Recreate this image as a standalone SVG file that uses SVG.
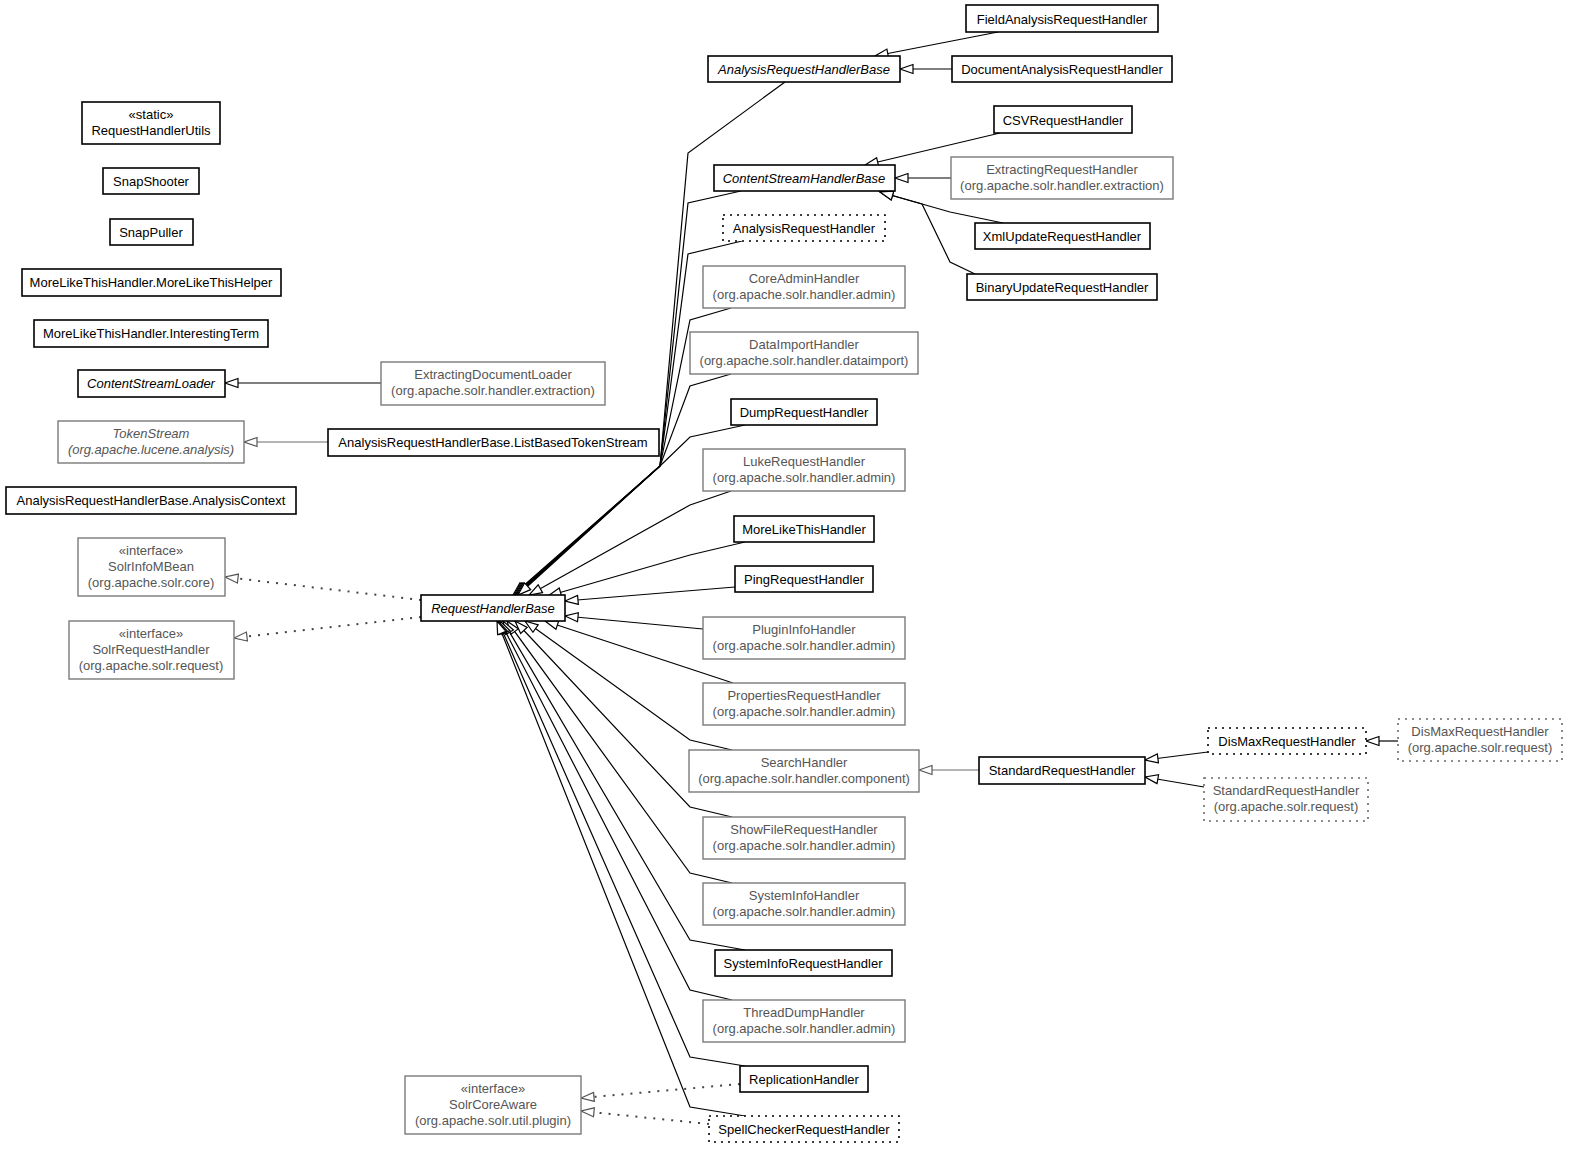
<svg xmlns="http://www.w3.org/2000/svg" width="1573" height="1152" viewBox="0 0 1573 1152">
<defs>
<style>
rect{fill:#fff}
.b{stroke:#000;stroke-width:1.6}
.g{stroke:#7a7a7a;stroke-width:1.4}
.d{stroke:#000;stroke-width:1.6;stroke-dasharray:2 5}
.gd{stroke:#6a6a6a;stroke-width:1.6;stroke-dasharray:2 5}
text{font-family:"Liberation Sans",Arial,sans-serif;font-size:13px;text-anchor:middle;fill:#000}
.gt{fill:#555}
.it{font-style:italic}
.e{fill:none;stroke:#000;stroke-width:1.2;marker-end:url(#tri)}
.eg{fill:none;stroke:#6a6a6a;stroke-width:1.2;marker-end:url(#trig)}
.r{fill:none;stroke:#444;stroke-width:2;stroke-dasharray:2 7;marker-end:url(#trig)}
</style>
<marker id="tri" markerWidth="16" markerHeight="12" refX="14" refY="5.5" orient="auto" markerUnits="userSpaceOnUse"><path d="M1,1 L14,5.5 L1,10 Z" fill="#fff" stroke="#000" stroke-width="1.2" stroke-dasharray="none"/></marker>
<marker id="trig" markerWidth="16" markerHeight="12" refX="14" refY="5.5" orient="auto" markerUnits="userSpaceOnUse"><path d="M1,1 L14,5.5 L1,10 Z" fill="#fff" stroke="#555" stroke-width="1.2" stroke-dasharray="none"/></marker>
</defs>
<rect x="0" y="0" width="1573" height="1152" fill="#fff"/>
<g id="connectors">
<polyline class="e" points="785,82 688,153 660,466 513,595"/>
<polyline class="e" points="741,191 688,203 660,466 514,595"/>
<polyline class="e" points="742,241 688,254 660,466 515,595"/>
<polyline class="e" points="731,308 690,320 660,466 516,595"/>
<polyline class="e" points="731,374 690,386 660,466 517,595"/>
<polyline class="e" points="745,425 690,437 660,466 518,595"/>
<polyline class="e" points="731,491 690,505 529,595"/>
<polyline class="e" points="745,542 690,555 548,596"/>
<polyline class="e" points="735,587 565,601"/>
<polyline class="e" points="703,629 565,616"/>
<polyline class="e" points="733,683 545,621"/>
<polyline class="e" points="732,750 690,740 525,621"/>
<polyline class="e" points="732,817 690,807 515,621"/>
<polyline class="e" points="732,883 690,873 507,621"/>
<polyline class="e" points="745,950 690,940 503,621"/>
<polyline class="e" points="732,1000 690,990 500,621"/>
<polyline class="e" points="745,1066 690,1057 498,621"/>
<polyline class="e" points="745,1116 690,1107 497,621"/>
<polyline class="e" points="998,32 875,56"/>
<polyline class="e" points="952,69 900,69"/>
<polyline class="e" points="1000,133 865,165"/>
<polyline class="e" points="951,178 895,178"/>
<polyline class="e" points="1003,223 950,212 880,192"/>
<polyline class="e" points="975,274 950,262 922,204 880,192"/>
<polyline class="e" points="381,383 225,383"/>
<polyline class="eg" points="328,442 244,442"/>
<polyline class="eg" points="979,770 919,770"/>
<polyline class="e" points="1208,752 1145,760"/>
<polyline class="e" points="1204,787 1145,777"/>
<polyline class="e" points="1398,741 1366,741"/>
<polyline class="r" points="421,600 225,577"/>
<polyline class="r" points="421,617 234,638"/>
<polyline class="r" points="740,1084 581,1098"/>
<polyline class="r" points="709,1124 581,1111"/>
</g>
<g id="FieldAnalysisRequestHandler"><rect class="b" x="966" y="5" width="192" height="27"/><text x="1062" y="23.5">FieldAnalysisRequestHandler</text></g>
<g id="AnalysisRequestHandlerBase"><rect class="b" x="708" y="56" width="192" height="26"/><text class="it" x="804" y="73.5">AnalysisRequestHandlerBase</text></g>
<g id="DocumentAnalysisRequestHandler"><rect class="b" x="952" y="56" width="220" height="26"/><text x="1062" y="73.5">DocumentAnalysisRequestHandler</text></g>
<g id="CSVRequestHandler"><rect class="b" x="994" y="106" width="138" height="27"/><text x="1063" y="124.5">CSVRequestHandler</text></g>
<g id="ContentStreamHandlerBase"><rect class="b" x="714" y="165" width="181" height="26"/><text class="it" x="804" y="182.5">ContentStreamHandlerBase</text></g>
<g id="ExtractingRequestHandler"><rect class="g" x="951" y="157" width="222" height="42"/><text class="gt" x="1062" y="174">ExtractingRequestHandler</text><text class="gt" x="1062" y="190">(org.apache.solr.handler.extraction)</text></g>
<g id="AnalysisRequestHandler"><rect class="d" x="723" y="215" width="162" height="26"/><text x="804" y="232.5">AnalysisRequestHandler</text></g>
<g id="XmlUpdateRequestHandler"><rect class="b" x="975" y="223" width="175" height="26"/><text x="1062" y="240.5">XmlUpdateRequestHandler</text></g>
<g id="BinaryUpdateRequestHandler"><rect class="b" x="967" y="274" width="190" height="26"/><text x="1062" y="291.5">BinaryUpdateRequestHandler</text></g>
<g id="CoreAdminHandler"><rect class="g" x="703" y="266" width="202" height="42"/><text class="gt" x="804" y="283">CoreAdminHandler</text><text class="gt" x="804" y="299">(org.apache.solr.handler.admin)</text></g>
<g id="DataImportHandler"><rect class="g" x="690" y="332" width="228" height="42"/><text class="gt" x="804" y="349">DataImportHandler</text><text class="gt" x="804" y="365">(org.apache.solr.handler.dataimport)</text></g>
<g id="DumpRequestHandler"><rect class="b" x="731" y="399" width="146" height="26"/><text x="804" y="416.5">DumpRequestHandler</text></g>
<g id="LukeRequestHandler"><rect class="g" x="703" y="449" width="202" height="42"/><text class="gt" x="804" y="466">LukeRequestHandler</text><text class="gt" x="804" y="482">(org.apache.solr.handler.admin)</text></g>
<g id="MoreLikeThisHandler"><rect class="b" x="734" y="516" width="140" height="26"/><text x="804" y="533.5">MoreLikeThisHandler</text></g>
<g id="PingRequestHandler"><rect class="b" x="735" y="566" width="138" height="26"/><text x="804" y="583.5">PingRequestHandler</text></g>
<g id="PluginInfoHandler"><rect class="g" x="703" y="617" width="202" height="42"/><text class="gt" x="804" y="634">PluginInfoHandler</text><text class="gt" x="804" y="650">(org.apache.solr.handler.admin)</text></g>
<g id="PropertiesRequestHandler"><rect class="g" x="703" y="683" width="202" height="42"/><text class="gt" x="804" y="700">PropertiesRequestHandler</text><text class="gt" x="804" y="716">(org.apache.solr.handler.admin)</text></g>
<g id="SearchHandler"><rect class="g" x="689" y="750" width="230" height="42"/><text class="gt" x="804" y="767">SearchHandler</text><text class="gt" x="804" y="783">(org.apache.solr.handler.component)</text></g>
<g id="ShowFileRequestHandler"><rect class="g" x="703" y="817" width="202" height="42"/><text class="gt" x="804" y="834">ShowFileRequestHandler</text><text class="gt" x="804" y="850">(org.apache.solr.handler.admin)</text></g>
<g id="SystemInfoHandler"><rect class="g" x="703" y="883" width="202" height="42"/><text class="gt" x="804" y="900">SystemInfoHandler</text><text class="gt" x="804" y="916">(org.apache.solr.handler.admin)</text></g>
<g id="SystemInfoRequestHandler"><rect class="b" x="715" y="950" width="177" height="26"/><text x="803" y="967.5">SystemInfoRequestHandler</text></g>
<g id="ThreadDumpHandler"><rect class="g" x="703" y="1000" width="202" height="42"/><text class="gt" x="804" y="1017">ThreadDumpHandler</text><text class="gt" x="804" y="1033">(org.apache.solr.handler.admin)</text></g>
<g id="ReplicationHandler"><rect class="b" x="740" y="1066" width="128" height="26"/><text x="804" y="1083.5">ReplicationHandler</text></g>
<g id="SpellCheckerRequestHandler"><rect class="d" x="709" y="1116" width="190" height="26"/><text x="804" y="1133.5">SpellCheckerRequestHandler</text></g>
<g id="SolrCoreAware"><rect class="g" x="405" y="1076" width="176" height="58"/><text class="gt" x="493" y="1093">«interface»</text><text class="gt" x="493" y="1109">SolrCoreAware</text><text class="gt" x="493" y="1125">(org.apache.solr.util.plugin)</text></g>
<g id="RequestHandlerBase"><rect class="b" x="421" y="595" width="144" height="26"/><text class="it" x="493" y="612.5">RequestHandlerBase</text></g>
<g id="SolrInfoMBean"><rect class="g" x="78" y="538" width="147" height="58"/><text class="gt" x="151" y="555">«interface»</text><text class="gt" x="151" y="571">SolrInfoMBean</text><text class="gt" x="151" y="587">(org.apache.solr.core)</text></g>
<g id="SolrRequestHandler"><rect class="g" x="69" y="621" width="165" height="58"/><text class="gt" x="151" y="638">«interface»</text><text class="gt" x="151" y="654">SolrRequestHandler</text><text class="gt" x="151" y="670">(org.apache.solr.request)</text></g>
<g id="RequestHandlerUtils"><rect class="b" x="82" y="102" width="138" height="42"/><text x="151" y="119">«static»</text><text x="151" y="135">RequestHandlerUtils</text></g>
<g id="SnapShooter"><rect class="b" x="103" y="168" width="96" height="26"/><text x="151" y="185.5">SnapShooter</text></g>
<g id="SnapPuller"><rect class="b" x="110" y="219" width="83" height="26"/><text x="151" y="236.5">SnapPuller</text></g>
<g id="MoreLikeThisHelper"><rect class="b" x="22" y="269" width="259" height="27"/><text x="151" y="287">MoreLikeThisHandler.MoreLikeThisHelper</text></g>
<g id="InterestingTerm"><rect class="b" x="34" y="320" width="234" height="27"/><text x="151" y="338">MoreLikeThisHandler.InterestingTerm</text></g>
<g id="ContentStreamLoader"><rect class="b" x="78" y="370" width="147" height="27"/><text class="it" x="151" y="388">ContentStreamLoader</text></g>
<g id="TokenStream"><rect class="g" x="58" y="421" width="186" height="42"/><text class="gt it" x="151" y="438">TokenStream</text><text class="gt it" x="151" y="454">(org.apache.lucene.analysis)</text></g>
<g id="AnalysisContext"><rect class="b" x="6" y="487" width="290" height="27"/><text x="151" y="505">AnalysisRequestHandlerBase.AnalysisContext</text></g>
<g id="ExtractingDocumentLoader"><rect class="g" x="381" y="362" width="224" height="43"/><text class="gt" x="493" y="379">ExtractingDocumentLoader</text><text class="gt" x="493" y="395">(org.apache.solr.handler.extraction)</text></g>
<g id="ListBasedTokenStream"><rect class="b" x="328" y="429" width="331" height="27"/><text x="493" y="447">AnalysisRequestHandlerBase.ListBasedTokenStream</text></g>
<g id="StandardRequestHandler"><rect class="b" x="979" y="757" width="166" height="27"/><text x="1062" y="775">StandardRequestHandler</text></g>
<g id="DisMaxRequestHandler"><rect class="d" x="1208" y="728" width="158" height="26"/><text x="1287" y="745.5">DisMaxRequestHandler</text></g>
<g id="DisMaxRequestHandlerReq"><rect class="gd" x="1398" y="719" width="164" height="42"/><text class="gt" x="1480" y="736">DisMaxRequestHandler</text><text class="gt" x="1480" y="752">(org.apache.solr.request)</text></g>
<g id="StandardRequestHandlerReq"><rect class="gd" x="1204" y="778" width="164" height="43"/><text class="gt" x="1286" y="795">StandardRequestHandler</text><text class="gt" x="1286" y="811">(org.apache.solr.request)</text></g>
</svg>
